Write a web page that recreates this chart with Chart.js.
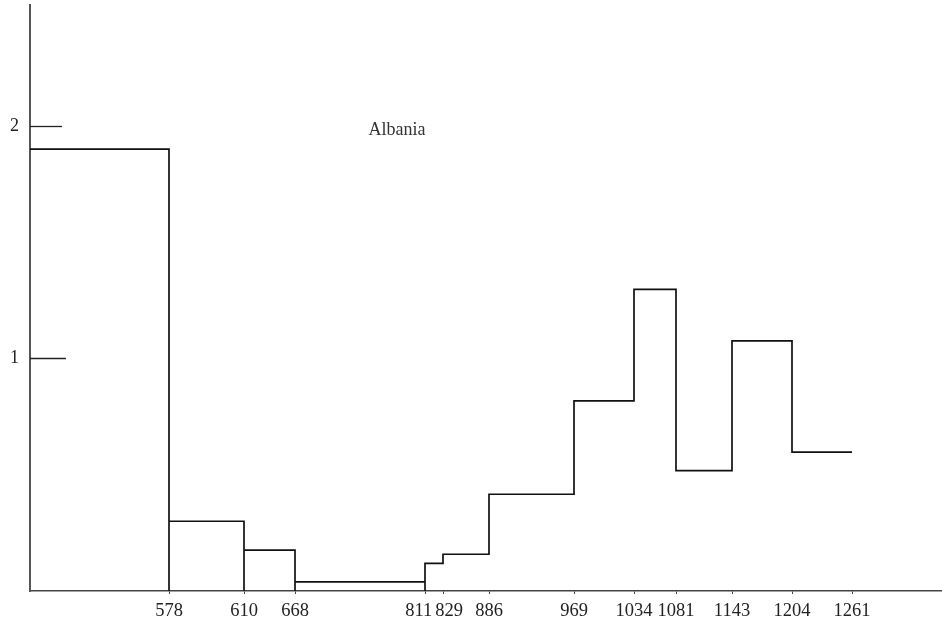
<!DOCTYPE html>
<html>
<head>
<meta charset="utf-8">
<script src="https://cdn.jsdelivr.net/npm/chart.js@4/dist/chart.umd.min.js"></script>
<style>
    html, body { margin: 0; padding: 0; background: #fff; }
    #wrap { width: 942px; height: 625px; position: relative; }
</style>
</head>
<body>
<div id="wrap"><canvas id="stepChart"></canvas></div>
<script>
// Bin edges as placed along the axis, and their printed labels
const edgePos = [139, 214, 265, 395, 413, 459, 544, 604, 646, 702, 762, 822];
const edgeLabels = ['578', '610', '668', '811', '829', '886', '969', '1034', '1081', '1143', '1204', '1261'];
// Height of each bin (first bin starts at the y axis)
const binHeights = [1.9, 0.3, 0.176, 0.039, 0.119, 0.158, 0.416, 0.818, 1.297, 0.518, 1.076, 0.597];
// Edges where the outline drops down to the axis
const baseEdges = ['578', '610', '668', '811'];
const yTicks = [1, 2];
const countryName = 'Albania';

const FONT = "'Liberation Serif', 'Times New Roman', serif";

// Build outline path from bins
const outline = [];
binHeights.forEach((h, i) => {
    const start = i === 0 ? 0 : edgePos[i - 1];
    const end = edgePos[i];
    outline.push({ x: start, y: h });
    outline.push({ x: end, y: h });
    if (baseEdges.includes(edgeLabels[i])) outline.push({ x: end, y: 0 });
});

// Inner y tick marks, x labels (pushed apart when they collide) and the country label
const annotations = {
    id: 'annotations',
    afterDatasetsDraw(chart) {
        const { ctx, chartArea, scales } = chart;
        const lens = { 1: 36, 2: 32 };
        ctx.save();
        ctx.strokeStyle = '#222';
        ctx.lineWidth = 1.3;
        yTicks.forEach(v => {
            const y = Math.round(scales.y.getPixelForValue(v)) + 0.5;
            ctx.beginPath();
            ctx.moveTo(chartArea.left, y);
            ctx.lineTo(chartArea.left + lens[v], y);
            ctx.stroke();
        });

        ctx.font = '18.5px ' + FONT;
        ctx.fillStyle = '#222';
        ctx.textAlign = 'center';
        ctx.textBaseline = 'middle';
        const items = edgeLabels.map((t, i) => ({
            text: t,
            x: scales.x.getPixelForValue(edgePos[i]),
            w: ctx.measureText(t).width
        }));
        for (let i = 1; i < items.length; i++) {
            const a = items[i - 1], b = items[i];
            const overlap = (a.x + a.w / 2 + 3) - (b.x - b.w / 2);
            if (overlap > 0) { a.x -= overlap / 2; b.x += overlap / 2; }
        }
        const ly = scales.x.top + 20;
        items.forEach(it => ctx.fillText(it.text, it.x, ly));

        ctx.font = '18px ' + FONT;
        ctx.fillStyle = '#333';
        ctx.fillText(countryName, scales.x.getPixelForValue(367), scales.y.getPixelForValue(1.98));
        ctx.restore();
    }
};

new Chart(document.getElementById('stepChart'), {
    type: 'line',
    data: {
        datasets: [{
            data: outline,
            borderColor: '#111',
            borderWidth: 1.7,
            pointRadius: 0,
            fill: false,
            tension: 0
        }]
    },
    options: {
        responsive: true,
        maintainAspectRatio: false,
        animation: false,
        layout: { padding: { top: 5, right: 0, left: 0, bottom: 0 } },
        plugins: { legend: { display: false }, tooltip: { enabled: false } },
        scales: {
            x: {
                type: 'linear',
                min: 0,
                max: 912,
                afterBuildTicks: scale => { scale.ticks = edgePos.map(v => ({ value: v })); },
                afterFit: scale => {
                    scale.height = 34;
                    scale.paddingLeft = 0;
                    scale.paddingRight = 0;
                },
                ticks: { display: false, autoSkip: false, maxRotation: 0 },
                grid: { drawOnChartArea: false, drawTicks: true, tickLength: 3, color: '#444' },
                border: { color: '#444', width: 1.5 }
            },
            y: {
                min: 0,
                max: 2.52,
                afterBuildTicks: scale => { scale.ticks = yTicks.map(v => ({ value: v })); },
                afterFit: scale => {
                    scale.width = 30;
                    scale.paddingTop = 0;
                    scale.paddingBottom = 0;
                },
                ticks: {
                    padding: 11,
                    color: '#222',
                    font: { family: FONT, size: 18 },
                    callback: v => String(v)
                },
                grid: { display: false, drawTicks: false },
                border: { color: '#555', width: 2 }
            }
        }
    },
    plugins: [annotations]
});
</script>
</body>
</html>
